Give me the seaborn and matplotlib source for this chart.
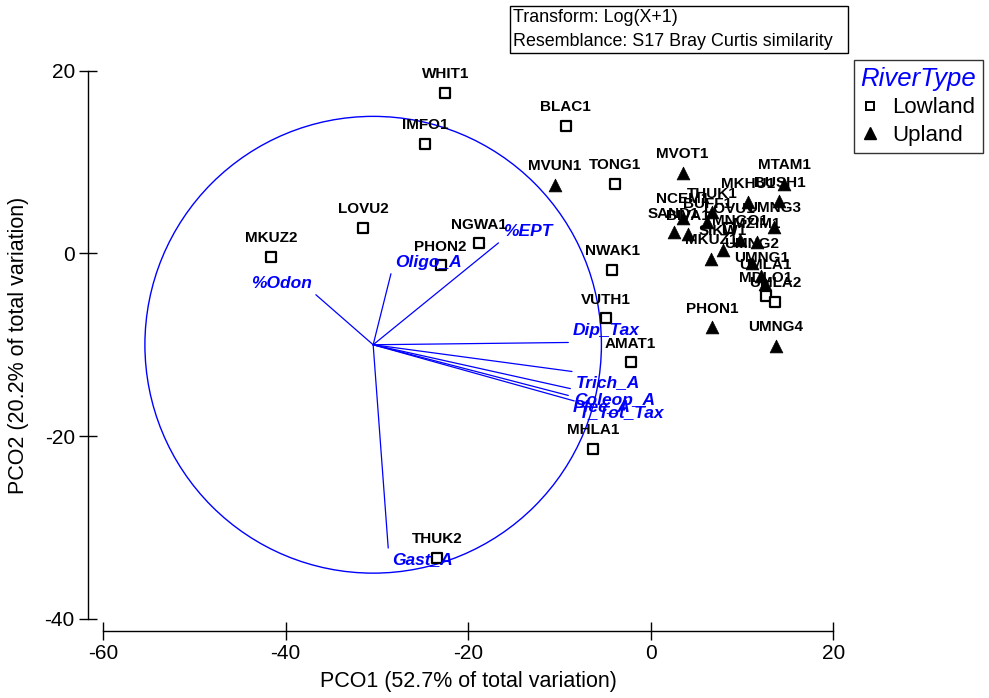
import numpy as np
import pandas as pd
import seaborn as sns
import matplotlib.pyplot as plt
from matplotlib.lines import Line2D
from matplotlib.patches import Circle, Rectangle

# site scores (PCO1, PCO2)
sites = ["WHIT1", "BLAC1", "IMFO1", "MVUN1", "TONG1", "LOVU2", "NGWA1", "MKUZ2",
         "PHON2", "NWAK1", "VUTH1", "AMAT1", "MHLA1", "THUK2", "PHON1", "UMNG4",
         "MVOT1", "MTAM1", "MKHU1", "BUSH1", "THUK1", "NCEM1", "BUFF1", "LOVU1",
         "UMNG3", "SAND1", "BIVA1", "MNGO1", "SIKW1", "MKUZ1", "MZIM1", "UMNG2",
         "UMNG1", "UMLA1", "MDLO1", "UMLA2"]
river_type = ["Lowland", "Lowland", "Lowland", "Upland", "Lowland", "Lowland", "Lowland", "Lowland",
              "Lowland", "Lowland", "Lowland", "Lowland", "Lowland", "Lowland", "Upland", "Upland",
              "Upland", "Upland", "Upland", "Upland", "Upland", "Upland", "Upland", "Lowland",
              "Upland", "Upland", "Upland", "Upland", "Upland", "Upland", "Upland", "Upland",
              "Upland", "Upland", "Lowland", "Lowland"]
pco1 = [-22.5, -9.3, -24.7, -10.5, -3.9, -31.5, -18.8, -41.6,
        -23.0, -4.2, -4.9, -2.2, -6.3, -23.4, 6.7, 13.7,
        3.5, 14.6, 10.7, 14.1, 6.7, 3.5, 6.2, 8.6,
        13.5, 2.5, 4.1, 9.8, 7.9, 6.6, 11.6, 11.1,
        12.1, 12.5, 12.6, 13.6]
pco2 = [17.6, 14.0, 12.0, 7.5, 7.6, 2.8, 1.1, -0.4,
        -1.3, -1.8, -7.1, -11.9, -21.4, -33.3, -8.1, -10.1,
        8.8, 7.6, 5.6, 5.7, 4.5, 3.9, 3.4, 2.8,
        2.9, 2.3, 2.1, 1.5, 0.4, -0.6, 1.2, -1.0,
        -2.5, -3.3, -4.7, -5.3]

# vector overlay (correlations with PCO axes)
vec_names = ["%EPT", "Oligo_A", "%Odon", "Dip_Tax", "Trich_A", "Coleop_A", "Plec_A", "T_Tot_Tax", "Gast_A"]
vec_r1 = [0.549, 0.078, -0.251, 0.855, 0.871, 0.864, 0.855, 0.881, 0.066]
vec_r2 = [0.446, 0.311, 0.219, 0.010, -0.117, -0.192, -0.222, -0.246, -0.890]

df = pd.DataFrame({"site": sites, "RiverType": river_type, "PCO1": pco1, "PCO2": pco2})

sns.set_style("white")
plt.rcParams["font.family"] = ["Liberation Sans", "DejaVu Sans"]
plt.rcParams["axes.unicode_minus"] = False
for k in ["text.color", "axes.labelcolor", "xtick.color", "ytick.color"]:
    plt.rcParams[k] = "black"

fig = plt.figure(figsize=(9.89, 6.98), dpi=100)
ax = fig.add_axes([88.3 / 989, 1 - 630.7 / 698, 756.7 / 989, 570.7 / 698])

blue = "#0000ff"
cx, cy, rad = -30.4, -10.0, 25.0

# correlation circle and vectors
ax.add_patch(Circle((cx, cy), rad, fill=False, ec=blue, lw=1.0, zorder=1))
for name, r1, r2 in zip(vec_names, vec_r1, vec_r2):
    ex, ey = cx + r1 * rad, cy + r2 * rad
    ax.plot([cx, ex], [cy, ey], color=blue, lw=0.9, zorder=1)
    ax.annotate(name, (ex, ey), xytext=(3 if r1 > 0 else -3, 8.3 if r2 > 0 else -8.3),
                textcoords="offset points", ha="left" if r1 > 0 else "right", va="center",
                color=blue, fontsize=12.5, fontweight="bold", fontstyle="italic", zorder=4)

low = df[df["RiverType"] == "Lowland"]
up = df[df["RiverType"] == "Upland"]
sns.scatterplot(data=low, x="PCO1", y="PCO2", marker="s", s=42, facecolor="white",
                edgecolor="black", linewidth=1.6, ax=ax, zorder=3, legend=False)
sns.scatterplot(data=up, x="PCO1", y="PCO2", marker="^", s=85, color="black",
                edgecolor="black", linewidth=0.5, ax=ax, zorder=3, legend=False)

for _, r in df.iterrows():
    ax.annotate(r["site"], (r["PCO1"], r["PCO2"]), xytext=(0, 10.5), textcoords="offset points",
                ha="center", va="baseline", fontsize=11, fontweight="bold", color="black", zorder=5)

ax.set_xlim(-61.6, 21.28)
ax.set_ylim(-41.3, 21.17)
ax.set_xticks([-60, -40, -20, 0, 20])
ax.set_yticks([-40, -20, 0, 20])
sns.despine(ax=ax)
ax.spines["left"].set_bounds(-40, 20)
ax.spines["bottom"].set_bounds(-60, 20)
for s in ["left", "bottom"]:
    ax.spines[s].set_color("black")
    ax.spines[s].set_linewidth(1.0)
ax.tick_params(direction="inout", length=13.5, width=1.0, color="black",
               labelsize=15, pad=3, bottom=True, left=True)

ax.set_xlabel("PCO1 (52.7% of total variation)", fontsize=15.5)
ax.set_ylabel("PCO2 (20.2% of total variation)", fontsize=15.5)
ax.xaxis.set_label_coords(0.503, -0.07)
ax.yaxis.set_label_coords(-0.079, 0.5)

# info box
fig.add_artist(Rectangle((510 / 989, 1 - 53 / 698), 338 / 989, 47 / 698, transform=fig.transFigure,
                         fill=False, ec="black", lw=1.0))
fig.text(513 / 989, 1 - 18 / 698, "Transform: Log(X+1)", fontsize=12.9, va="center")
fig.text(513 / 989, 1 - 42 / 698, "Resemblance: S17 Bray Curtis similarity", fontsize=12.9, va="center")

handles = [
    Line2D([], [], ls="", marker="s", ms=6, mfc="white", mec="black", mew=1.4),
    Line2D([], [], ls="", marker="^", ms=8.5, color="black"),
]
leg = fig.legend(handles, ["Lowland", "Upland"], title="RiverType", loc="upper left",
                 bbox_to_anchor=(854 / 989, 1 - 60 / 698), frameon=True, fancybox=False,
                 fontsize=16, borderpad=0.3, labelspacing=0.3, handletextpad=0.6,
                 handlelength=0.8, borderaxespad=0)
leg.get_title().set_color(blue)
leg.get_title().set_fontstyle("italic")
leg.get_title().set_fontsize(18.5)
leg.get_frame().set_edgecolor("black")
leg.get_frame().set_linewidth(1.0)

fig.savefig("out.png", dpi=100)
